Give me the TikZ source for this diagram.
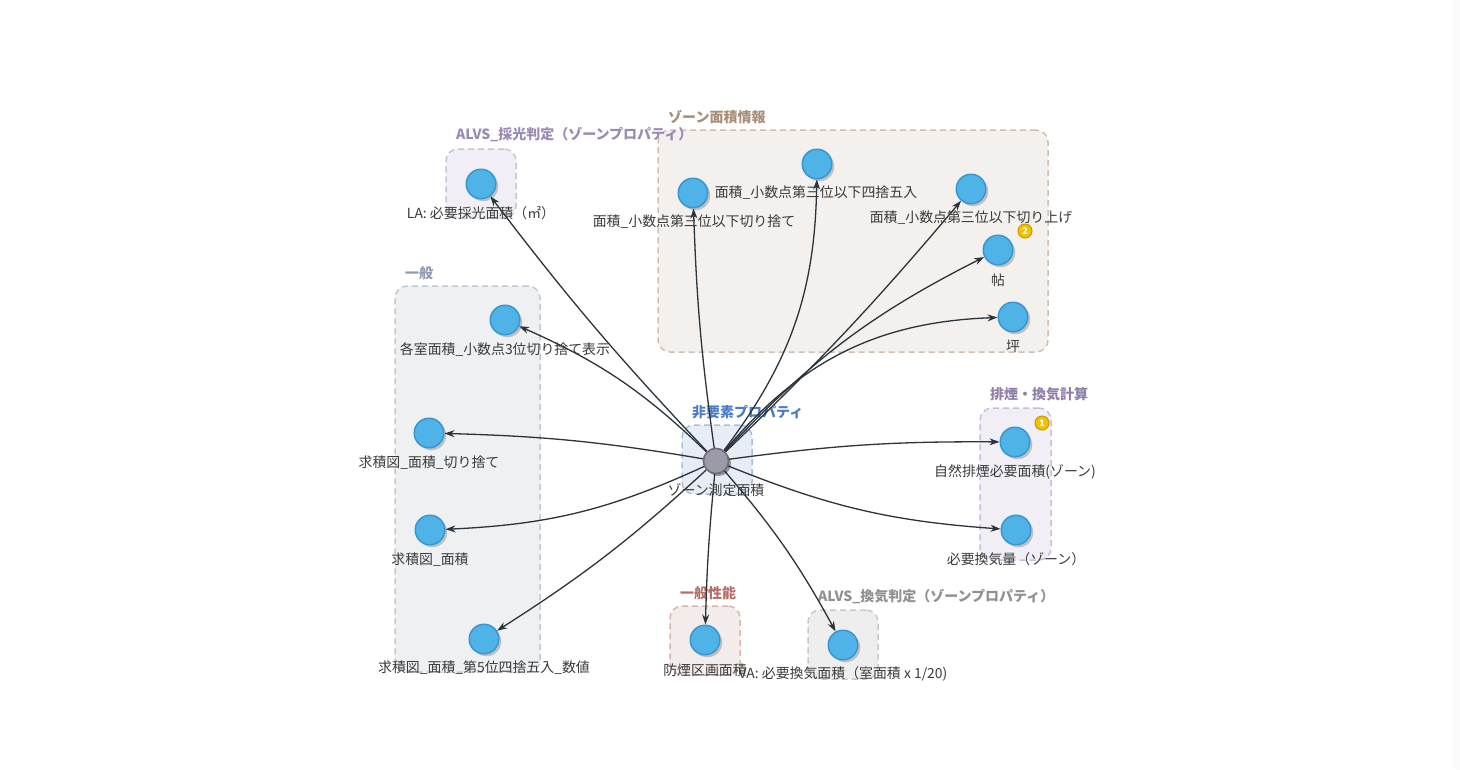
\documentclass[tikz,border=0pt]{standalone}
\usepackage{fontspec}
\setmainfont{Noto Sans CJK JP}
\usetikzlibrary{arrows.meta,shadows}
\definecolor{nodeblue}{HTML}{4FB3E8}
\definecolor{nodeborder}{HTML}{3598D0}
\definecolor{hubgray}{HTML}{9C99A9}
\definecolor{hubborder}{HTML}{6F6C7C}
\definecolor{edgecol}{HTML}{2B333B}
\definecolor{labeltext}{HTML}{3A3A3A}
\definecolor{badgey}{HTML}{F2C200}
\definecolor{badgeb}{HTML}{C99A00}
\definecolor{fLav}{HTML}{F1EFF5}\definecolor{bLav}{HTML}{C9C1D6}\definecolor{tLav}{HTML}{9A8AB4}
\definecolor{fTan}{HTML}{F3F0ED}\definecolor{bTan}{HTML}{CFC0B5}\definecolor{tTan}{HTML}{A88E78}
\definecolor{fGen}{HTML}{EFF0F2}\definecolor{bGen}{HTML}{C2C8D1}\definecolor{tGen}{HTML}{8E9AAE}
\definecolor{fHub}{HTML}{E7ECF5}\definecolor{bHub}{HTML}{A9BDDD}\definecolor{tHub}{HTML}{4A7CC4}
\definecolor{fSmk}{HTML}{F1EFF5}\definecolor{bSmk}{HTML}{C8BED8}\definecolor{tSmk}{HTML}{9080A8}
\definecolor{fPrf}{HTML}{F4ECEB}\definecolor{bPrf}{HTML}{D9B5B1}\definecolor{tPrf}{HTML}{B46E6A}
\definecolor{fVA}{HTML}{EEEEEE}\definecolor{bVA}{HTML}{C9C9C9}\definecolor{tVA}{HTML}{909090}
\begin{document}
\begin{tikzpicture}[x=1pt,y=1pt,
  vnode/.style={circle,minimum size=29.5pt,inner sep=0pt,fill=nodeblue,draw=nodeborder,line width=1.5pt,
    drop shadow={shadow xshift=2.5pt,shadow yshift=-2.5pt,opacity=0.2,fill=black}},
  hub/.style={circle,minimum size=25pt,inner sep=0pt,fill=hubgray,draw=hubborder,line width=1.5pt,
    drop shadow={shadow xshift=2.5pt,shadow yshift=-2.5pt,opacity=0.2,fill=black}},
  lbl/.style={font=\fontsize{13.9}{16}\selectfont,text=labeltext,inner sep=0pt},
  ttl/.style={font=\bfseries\fontsize{14}{16}\selectfont,anchor=west,inner sep=0pt},
  grp/.style={rectangle,inner sep=0pt,dash pattern=on 6pt off 4pt,line width=1.5pt,rounded corners=12pt},
  conn/.style={draw=edgecol,line width=1.3pt,-{Stealth[length=10pt,width=7pt]}},
  badge/.style={circle,minimum size=14pt,inner sep=0pt,fill=badgey,draw=badgeb,line width=1pt,text=white,
    font=\bfseries\fontsize{9}{9}\selectfont}
]
\useasboundingbox (0,0) rectangle (1460,-769);
\fill[white] (0,0) rectangle (1460,-769);
\fill[black!2] (1453,0) rectangle (1460,-769);

% groups
\node[grp,fill=fLav,draw=bLav,minimum width=70pt,minimum height=69pt] (gLA) at (481,-183.5) {};
\node[grp,fill=fTan,draw=bTan,minimum width=390pt,minimum height=222pt] (gZone) at (853,-241) {};
\node[grp,fill=fGen,draw=bGen,minimum width=145pt,minimum height=386pt] (gGen) at (467.5,-479) {};
\node[grp,fill=fHub,draw=bHub,minimum width=70pt,minimum height=69pt] (gHub) at (717,-459.5) {};
\node[grp,fill=fSmk,draw=bSmk,minimum width=71pt,minimum height=152pt] (gSmk) at (1015.5,-484) {};
\node[grp,fill=fPrf,draw=bPrf,minimum width=70pt,minimum height=69pt] (gPrf) at (705,-640.5) {};
\node[grp,fill=fVA,draw=bVA,minimum width=70pt,minimum height=69pt] (gVA) at (843,-644.5) {};

\node[ttl,text=tLav] (tLA) at (456,-135) {ALVS\_採光判定（ゾーンプロパティ）};
\node[ttl,text=tTan] (tZone) at (668,-117) {ゾーン面積情報};
\node[ttl,text=tGen] (tGen) at (405,-273) {一般};
\node[ttl,text=tHub] (tHub) at (692,-412) {非要素プロパティ};
\node[ttl,text=tSmk] (tSmk) at (990,-394) {排煙・換気計算};
\node[ttl,text=tPrf] (tPrf) at (680,-593) {一般性能};
\node[ttl,text=tVA] (tVA) at (818,-597) {ALVS\_換気判定（ゾーンプロパティ）};

% nodes
\node[hub] (hub) at (716,-461) {};
\node[vnode] (la) at (481,-184) {};
\node[vnode] (kiri) at (693,-193) {};
\node[vnode] (shi) at (817,-164) {};
\node[vnode] (age) at (971,-189) {};
\node[vnode] (jo) at (998,-250) {};
\node[vnode] (tsubo) at (1013,-317) {};
\node[vnode] (kaku) at (505,-320) {};
\node[vnode] (qkiri) at (429,-433) {};
\node[vnode] (qmen) at (430,-530) {};
\node[vnode] (q5) at (484,-639) {};
\node[vnode] (bou) at (705,-640) {};
\node[vnode] (va) at (843,-645) {};
\node[vnode] (shizen) at (1015,-442) {};
\node[vnode] (kanki) at (1016,-530) {};

% connectors
\draw[conn] (hub) to[bend left=3] (la);
\draw[conn] (hub) to[bend left=3] (kiri);
\draw[conn] (hub) to[bend right=18] (shi);
\draw[conn] (hub) to[bend right=3] (age);
\draw[conn] (hub) to[bend left=10] (jo);
\draw[conn] (hub) to[bend left=24] (tsubo);
\draw[conn] (hub) to[bend right=10] (kaku);
\draw[conn] (hub) to[bend right=4] (qkiri);
\draw[conn] (hub) to[bend left=11] (qmen);
\draw[conn] (hub) to[bend left=5] (q5);
\draw[conn] (hub) to[bend right=2] (bou);
\draw[conn] (hub) to[bend left=6] (va);
\draw[conn] (hub) to[bend left=4] (shizen);
\draw[conn] (hub) to[bend right=9] (kanki);

% redraw hub over connectors
\node[hub] at (hub) {};

% labels
\node[lbl] (lhub) at (716,-490) {ゾーン測定面積};
\node[lbl] (lla) at (481,-213) {LA: 必要採光面積（㎡）};
\node[lbl] (lkiri) at (694,-222) {面積\_小数点第三位以下切り捨て};
\node[lbl] (lshi) at (816,-193) {面積\_小数点第三位以下四捨五入};
\node[lbl] (lage) at (971,-218) {面積\_小数点第三位以下切り上げ};
\node[lbl] (ljo) at (998,-280) {帖};
\node[lbl] (ltsubo) at (1013,-346) {坪};
\node[lbl] (lkaku) at (505,-350) {各室面積\_小数点3位切り捨て表示};
\node[lbl] (lqkiri) at (429,-463) {求積図\_面積\_切り捨て};
\node[lbl] (lqmen) at (430,-560) {求積図\_面積};
\node[lbl] (lq5) at (484,-668) {求積図\_面積\_第5位四捨五入\_数値};
\node[lbl] (lbou) at (705,-670) {防煙区画面積};
\node[lbl] (lva) at (843,-674) {VA: 必要換気面積（室面積 x 1/20)};
\node[lbl] (lshizen) at (1015,-472) {自然排煙必要面積(ゾーン)};
\node[lbl] (lkanki) at (1016,-559) {必要換気量（ゾーン）};

% badges
\node[badge] (b2) at (1025,-231) {2};
\node[badge] (b1) at (1042,-423) {1};
\end{tikzpicture}
\end{document}
